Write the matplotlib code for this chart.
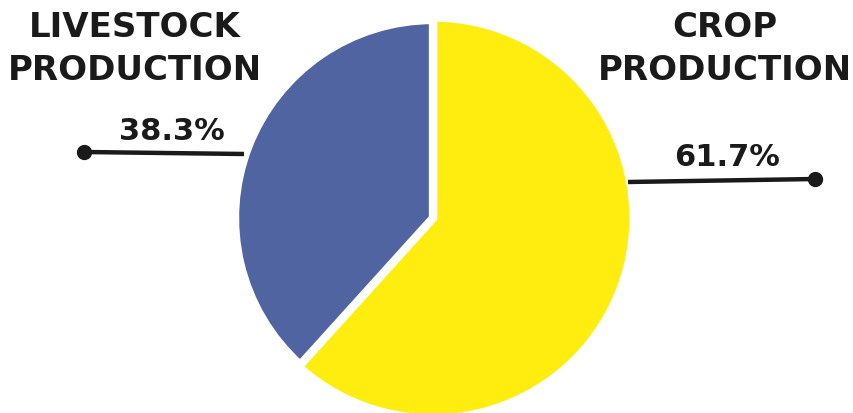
import matplotlib.pyplot as plt

# share of agricultural output
labels = ["CROP\nPRODUCTION", "LIVESTOCK\nPRODUCTION"]
shares = [61.7, 38.3]
colors = ["#FFED0F", "#4F64A0"]

W, H = 854, 414

fig = plt.figure(figsize=(W / 100, H / 100), dpi=100)
ax = fig.add_axes([0, 0, 1, 1])

wedges, _ = ax.pie(shares, colors=colors, startangle=90, counterclock=False,
                   center=(433, H - 219), radius=198,
                   wedgeprops=dict(edgecolor="white", linewidth=6, joinstyle="miter"))
# the crop slice sits a little proud of the livestock one
wedges[0].set_radius(200.5)

ax.set_xlim(0, W)
ax.set_ylim(0, H)
ax.set_aspect("equal")
ax.axis("off")

font = dict(family="DejaVu Sans", fontweight="heavy", color="#1a1a1a",
            ha="center", va="center")

# category titles
ax.text(135, H - 49, labels[1], fontsize=24.5, linespacing=1.4, **font)
ax.text(725, H - 49, labels[0], fontsize=24.5, linespacing=1.4, **font)

# percentage labels with leader lines
ax.text(172, H - 131, f"{shares[1]}%", fontsize=22, **font)
ax.text(727, H - 157, f"{shares[0]}%", fontsize=22, **font)

ax.plot([84, 244], [H - 153, H - 155], color="#1a1a1a", lw=3.2, solid_capstyle="butt")
ax.plot([84], [H - 153], "o", color="#1a1a1a", ms=10)
ax.plot([628, 815], [H - 183, H - 180], color="#1a1a1a", lw=3.2, solid_capstyle="butt")
ax.plot([815], [H - 180], "o", color="#1a1a1a", ms=10)

fig.savefig("out.png", dpi=100, facecolor="white")
